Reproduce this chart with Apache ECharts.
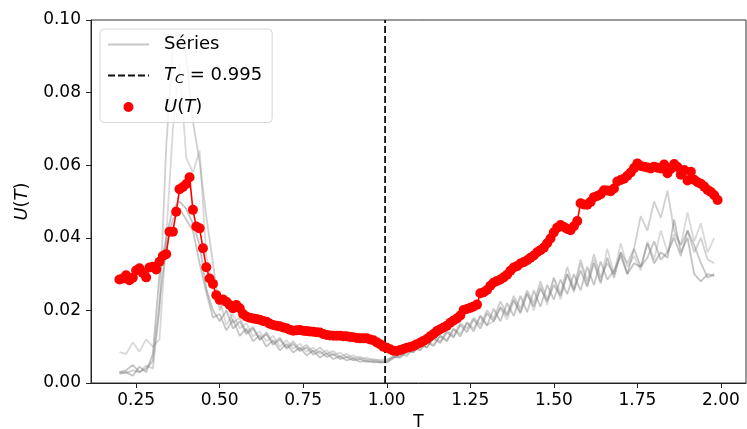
<!DOCTYPE html>
<html>
<head>
<meta charset="utf-8">
<script src="https://cdn.jsdelivr.net/npm/echarts@6/dist/echarts.min.js"></script>
<style>
  html, body { margin: 0; padding: 0; background: #fff; }
  #chart { width: 747px; height: 429px; }
</style>
</head>
<body>
<div id="chart"></div>
<script>
// temperatures for U(T)
var T = [
  0.20,0.21,0.22,0.23,0.24,0.25,0.26,0.27,0.28,0.29,
  0.30,0.31,0.32,0.33,0.34,0.35,0.36,0.37,0.38,0.39,
  0.40,0.41,0.42,0.43,0.44,0.45,0.46,0.47,0.48,0.49,
  0.50,0.51,0.52,0.53,0.54,0.55,0.56,0.57,0.58,0.59,
  0.60,0.61,0.62,0.63,0.64,0.65,0.66,0.67,0.68,0.69,
  0.70,0.71,0.72,0.73,0.74,0.75,0.76,0.77,0.78,0.79,
  0.80,0.81,0.82,0.83,0.84,0.85,0.86,0.87,0.88,0.89,
  0.90,0.91,0.92,0.93,0.94,0.95,0.96,0.97,0.98,0.99,
  1.00,1.01,1.02,1.03,1.04,1.05,1.06,1.07,1.08,1.09,
  1.10,1.11,1.12,1.13,1.14,1.15,1.16,1.17,1.18,1.19,
  1.20,1.21,1.22,1.23,1.24,1.25,1.26,1.27,1.28,1.29,
  1.30,1.31,1.32,1.33,1.34,1.35,1.36,1.37,1.38,1.39,
  1.40,1.41,1.42,1.43,1.44,1.45,1.46,1.47,1.48,1.49,
  1.50,1.51,1.52,1.53,1.54,1.55,1.56,1.57,1.58,1.59,
  1.60,1.61,1.62,1.63,1.64,1.65,1.66,1.67,1.68,1.69,
  1.70,1.71,1.72,1.73,1.74,1.75,1.76,1.77,1.78,1.79,
  1.80,1.81,1.82,1.83,1.84,1.85,1.86,1.87,1.88,1.89,
  1.90,1.91,1.92,1.93,1.94,1.95,1.96,1.97,1.98,1.99
];
var U = [
  .0285,.0288,.0297,.0283,.0290,.0310,.0316,.0303,.0291,.0318,
  .0320,.0313,.0334,.0350,.0355,.0417,.0417,.0472,.0534,.0540,
  .0548,.0567,.0477,.0431,.0426,.0371,.0319,.0288,.0273,.0242,
  .0229,.0230,.0224,.0215,.0206,.0215,.0206,.0190,.0183,.0180,
  .0178,.0176,.0174,.0171,.0169,.0163,.0160,.0158,.0156,.0153,
  .0151,.0147,.0144,.0145,.0146,.0144,.0143,.0142,.0141,.0140,
  .0139,.0135,.0132,.0131,.0130,.0130,.0130,.0129,.0129,.0127,
  .0126,.0124,.0123,.0123,.0123,.0120,.0118,.0112,.0107,.0100,
  .0097,.0093,.0089,.0088,.0091,.0094,.0097,.0099,.0102,.0107,
  .0111,.0116,.0121,.0129,.0135,.0143,.0148,.0153,.0158,.0166,
  .0172,.0178,.0186,.0201,.0204,.0207,.0211,.0216,.0247,.0250,
  .0256,.0268,.0277,.0281,.0285,.0291,.0298,.0309,.0318,.0322,
  .0329,.0333,.0338,.0345,.0351,.0360,.0366,.0373,.0385,.0398,
  .0415,.0428,.0435,.0430,.0424,.0421,.0432,.0446,.0495,.0492,
  .0491,.0499,.0512,.0515,.0520,.0531,.0530,.0528,.0536,.0555,
  .0559,.0563,.0571,.0580,.0592,.0605,.0598,.0596,.0594,.0591,
  .0596,.0593,.0591,.0602,.0578,.0590,.0603,.0595,.0574,.0587,
  .0558,.0582,.0560,.0553,.0549,.0541,.0532,.0526,.0517,.0504
];

// temperatures for the individual series (grey)
var Tg = [
  0.20,0.22,0.24,0.26,0.28,0.30,0.32,0.34,0.36,0.38,
  0.40,0.42,0.44,0.46,0.48,0.50,0.52,0.54,0.56,0.58,
  0.60,0.62,0.64,0.66,0.68,0.70,0.72,0.74,0.76,0.78,
  0.80,0.82,0.84,0.86,0.88,0.90,0.92,0.94,0.96,0.98,
  1.00,1.02,1.04,1.06,1.08,1.10,1.12,1.14,1.16,1.18,
  1.20,1.22,1.24,1.26,1.28,1.30,1.32,1.34,1.36,1.38,
  1.40,1.42,1.44,1.46,1.48,1.50,1.52,1.54,1.56,1.58,
  1.60,1.62,1.64,1.66,1.68,1.70,1.72,1.74,1.76,1.78,
  1.80,1.82,1.84,1.86,1.88,1.90,1.92,1.94,1.96,1.98
];
var serie1 = [
  .0030,.0028,.0035,.0030,.0048,.0040,.0200,.0650,.0920,.0963,
  .0900,.0720,.0610,.0460,.0330,.0200,.0240,.0165,.0180,.0140,
  .0155,.0118,.0140,.0110,.0125,.0098,.0115,.0092,.0105,.0085,
  .0098,.0080,.0088,.0072,.0080,.0068,.0072,.0064,.0066,.0060,
  .0062,.0075,.0072,.0090,.0085,.0108,.0098,.0125,.0115,.0145,
  .0130,.0165,.0150,.0180,.0160,.0200,.0178,.0225,.0190,.0240,
  .0205,.0255,.0220,.0280,.0230,.0290,.0245,.0320,.0260,.0340,
  .0280,.0355,.0290,.0330,.0300,.0360,.0330,.0370,.0460,.0420,
  .0500,.0455,.0530,.0420,.0380,.0420,.0360,.0400,.0340,.0330
];
var serie2 = [
  .0085,.0080,.0112,.0086,.0120,.0100,.0120,.0400,.0700,.0880,
  .0620,.0580,.0640,.0350,.0260,.0230,.0160,.0190,.0150,.0165,
  .0128,.0142,.0115,.0130,.0100,.0118,.0094,.0108,.0086,.0098,
  .0080,.0090,.0076,.0084,.0070,.0076,.0066,.0070,.0062,.0064,
  .0066,.0070,.0082,.0080,.0098,.0092,.0115,.0105,.0130,.0118,
  .0148,.0135,.0165,.0150,.0185,.0160,.0170,.0205,.0175,.0225,
  .0190,.0250,.0200,.0270,.0215,.0290,.0230,.0300,.0250,.0330,
  .0270,.0340,.0280,.0370,.0300,.0385,.0320,.0350,.0310,.0390,
  .0340,.0420,.0360,.0410,.0380,.0470,.0390,.0440,.0360,.0400
];
var serie3 = [
  .0025,.0030,.0020,.0045,.0030,.0080,.0300,.0400,.0480,.0500,
  .0480,.0440,.0380,.0260,.0200,.0170,.0200,.0150,.0170,.0135,
  .0150,.0120,.0135,.0105,.0120,.0095,.0108,.0088,.0098,.0078,
  .0088,.0072,.0080,.0066,.0072,.0062,.0066,.0058,.0060,.0056,
  .0058,.0072,.0070,.0088,.0085,.0105,.0098,.0122,.0110,.0140,
  .0125,.0160,.0140,.0175,.0150,.0192,.0170,.0210,.0185,.0230,
  .0195,.0245,.0210,.0260,.0225,.0270,.0240,.0300,.0255,.0310,
  .0265,.0330,.0275,.0345,.0290,.0360,.0300,.0330,.0320,.0385,
  .0330,.0360,.0345,.0450,.0360,.0400,.0300,.0280,.0300,.0295
];
var serie4 = [
  .0030,.0035,.0050,.0030,.0040,.0060,.0220,.0380,.0450,.0480,
  .0450,.0420,.0330,.0250,.0180,.0190,.0145,.0175,.0130,.0150,
  .0115,.0132,.0100,.0118,.0090,.0108,.0084,.0098,.0076,.0090,
  .0070,.0082,.0066,.0074,.0062,.0068,.0058,.0062,.0057,.0058,
  .0056,.0068,.0078,.0075,.0095,.0090,.0112,.0102,.0130,.0115,
  .0150,.0128,.0168,.0142,.0185,.0158,.0205,.0170,.0220,.0185,
  .0240,.0195,.0255,.0210,.0270,.0230,.0285,.0245,.0300,.0255,
  .0320,.0270,.0335,.0285,.0310,.0350,.0300,.0370,.0320,.0345,
  .0390,.0340,.0360,.0400,.0350,.0420,.0380,.0330,.0290,.0300
];

var Tc = 0.995;
var xTicks = [0.25, 0.50, 0.75, 1.00, 1.25, 1.50, 1.75, 2.00];

var chart = echarts.init(document.getElementById('chart'));

function pairs(xs, ys) {
  return xs.map(function (x, i) { return [x, ys[i]]; });
}

var grays = [serie1, serie2, serie3, serie4];
var grayColors = ['rgba(150,150,150,0.45)', 'rgba(160,160,160,0.4)',
                  'rgba(120,120,120,0.45)', 'rgba(128,128,128,0.45)'];

var series = grays.map(function (g, k) {
  return {
    name: 'Séries',
    type: 'line',
    data: pairs(Tg, g),
    symbol: 'none',
    silent: true,
    z: 1,
    lineStyle: { color: grayColors[k], width: 1.8 },
    itemStyle: { color: '#c8c8c8' }
  };
});
// vertical line at Tc
series.push({
  name: 'Tc',
  type: 'line',
  data: [[Tc, 0], [Tc, 0.1]],
  symbol: 'none',
  z: 3,
  lineStyle: { color: '#111', width: 1.8, type: [7, 3] },
  itemStyle: { color: '#111' }
});
series.push({
  name: 'U',
  type: 'line',
  data: pairs(T, U),
  symbol: 'circle',
  symbolSize: 10,
  showAllSymbol: true,
  z: 4,
  lineStyle: { color: '#ff0000', width: 1.6 },
  itemStyle: { color: '#ff0000' }
});

var rich = {
  i: { fontStyle: 'italic', fontSize: 18, fontFamily: 'DejaVu Sans', color: '#000' },
  n: { fontSize: 18, fontFamily: 'DejaVu Sans', color: '#000' },
  s: { fontStyle: 'italic', fontSize: 13, fontFamily: 'DejaVu Sans', color: '#000', padding: [9, 0, 0, 0] }
};

var option = {
  animation: false,
  grid: {
    left: 91, right: 1, top: 20, bottom: 46,
    outerBoundsMode: 'none',
    show: true, borderColor: '#333', borderWidth: 1
  },
  legend: {
    orient: 'vertical',
    left: 100,
    top: 29,
    padding: [5, 10, 5, 7],
    itemGap: 10,
    itemWidth: 41,
    itemHeight: 10,
    backgroundColor: 'rgba(255,255,255,0.8)',
    borderColor: '#d6d6d6',
    borderWidth: 1,
    borderRadius: 4,
    textStyle: { fontSize: 18, fontFamily: 'DejaVu Sans', color: '#000', lineHeight: 21, padding: [0, 0, 0, 10], rich: rich },
    formatter: function (name) {
      if (name === 'Tc') return '{i|T}{s|C}{n| = 0.995}';
      if (name === 'U') return '{i|U}{n|(}{i|T}{n|)}';
      return name;
    },
    data: [
      { name: 'Séries', itemStyle: { opacity: 0 }, lineStyle: { color: '#c8c8c8', width: 2 } },
      { name: 'Tc', itemStyle: { opacity: 0 } },
      { name: 'U', icon: 'circle' }
    ]
  },
  xAxis: {
    type: 'value',
    min: 0.115,
    max: 2.075,
    name: 'T',
    nameLocation: 'middle',
    nameGap: 29,
    nameTextStyle: { fontSize: 17, fontFamily: 'DejaVu Sans', color: '#000' },
    axisLine: { show: true, onZero: false, lineStyle: { color: '#222', width: 1 } },
    axisTick: { show: true, length: 5, customValues: xTicks, lineStyle: { color: '#222' } },
    axisLabel: {
      margin: 9,
      fontSize: 17,
      fontFamily: 'DejaVu Sans',
      color: '#000',
      customValues: xTicks,
      formatter: function (v) { return v.toFixed(2); }
    },
    splitLine: { show: false }
  },
  yAxis: {
    type: 'value',
    min: 0,
    max: 0.1,
    interval: 0.02,
    name: '{i|U}{n|(}{i|T}{n|)}',
    nameLocation: 'middle',
    nameGap: 60,
    nameRotate: 90,
    nameTextStyle: { rich: rich },
    axisLine: { show: true, lineStyle: { color: '#222', width: 1 } },
    axisTick: { show: true, length: 5, lineStyle: { color: '#222' } },
    axisLabel: {
      margin: 10,
      fontSize: 17,
      fontFamily: 'DejaVu Sans',
      color: '#000',
      formatter: function (v) { return v.toFixed(2); }
    },
    splitLine: { show: false }
  },
  series: series
};

chart.setOption(option);
</script>
</body>
</html>
